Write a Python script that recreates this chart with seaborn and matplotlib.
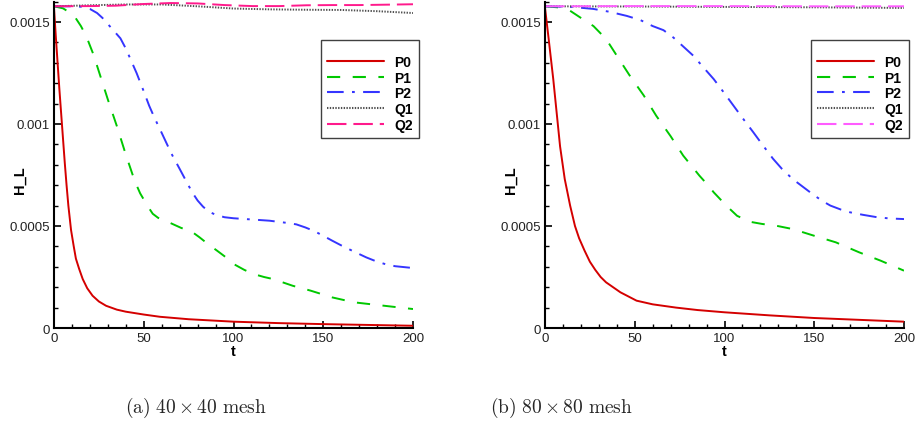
import numpy as np
import pandas as pd
import matplotlib
matplotlib.use("Agg")
import matplotlib.pyplot as plt
import seaborn as sns
from matplotlib.ticker import MultipleLocator, FuncFormatter

# ---------------- data: (a) 40 x 40 mesh ----------------
t_p0_a = [0, 1, 2, 3, 4, 5, 6, 7, 8, 9.5, 11, 12.2, 14, 16, 18.5, 21.5, 25, 29, 35, 40,
          50, 59, 75, 100, 125, 150, 175, 200]
p0_a = [0.00157, 0.00143, 0.0013, 0.00117, 0.00105, 0.00093, 0.00081, 0.0007, 0.0006,
        0.00048, 0.0004, 0.00034, 0.00029, 0.00024, 0.000195, 0.000158, 0.00013, 0.000109,
        0.00009, 0.00008, 0.000066, 0.000055, 0.000043, 0.000031, 0.000024, 0.000019,
        0.000015, 0.000011]

t_p1_a = [0, 5, 10, 12, 15, 18, 22, 26, 30, 35, 40, 45, 48, 52, 55, 58, 61, 66, 71, 76,
          81, 86, 91, 96, 100, 106, 111, 117, 122, 133, 143, 155, 167, 180, 190, 200]
p1_a = [0.001577, 0.001567, 0.00154, 0.00152, 0.00148, 0.00143, 0.00134, 0.00123, 0.00112,
        0.00099, 0.00085, 0.00072, 0.00066, 0.0006, 0.00056, 0.00054, 0.00053, 0.00051,
        0.00049, 0.000477, 0.000445, 0.00041, 0.000378, 0.000345, 0.000314, 0.000285,
        0.000265, 0.00025, 0.00024, 0.000207, 0.000183, 0.00015, 0.000126, 0.000113,
        0.000103, 0.000093]

t_p2_a = [0, 10, 15, 20, 24, 27, 30, 33, 37, 40, 43, 46, 50, 53, 56, 59, 63, 66, 70, 74,
          77, 80, 83, 86, 90, 95, 100, 110, 120, 130, 135, 140, 145, 150, 155, 160, 167,
          174, 180, 185, 190, 200]
p2_a = [0.001577, 0.001577, 0.001575, 0.001564, 0.001544, 0.00152, 0.00149, 0.00146,
        0.00142, 0.00137, 0.00131, 0.00125, 0.00116, 0.00109, 0.00103, 0.000975, 0.0009,
        0.000845, 0.00078, 0.000714, 0.000665, 0.000625, 0.000595, 0.000572, 0.000555,
        0.000543, 0.000538, 0.000532, 0.000526, 0.000515, 0.000508, 0.000493, 0.000475,
        0.000452, 0.000428, 0.000405, 0.000375, 0.000346, 0.000325, 0.000312, 0.000303,
        0.000294]

t_q1_a = [0, 20, 40, 60, 80, 100, 120, 140, 160, 180, 200]
q1_a = [0.001577, 0.001582, 0.001586, 0.001586, 0.001577, 0.001566, 0.001562, 0.00156,
        0.001559, 0.001553, 0.001544]

t_q2_a = [0, 20, 34.5, 49.4, 65, 80, 95, 110.6, 125.5, 140.7, 155, 170, 185.8, 200]
q2_a = [0.001577, 0.001578, 0.00158, 0.001588, 0.001593, 0.001591, 0.001583, 0.001578,
        0.001578, 0.001582, 0.001583, 0.001583, 0.001585, 0.001587]

# ---------------- data: (b) 80 x 80 mesh ----------------
t_p0_b = [0, 2, 4.6, 8.4, 11, 14, 16.7, 19, 22, 25, 28, 31, 34, 42, 51, 60, 73, 85, 100,
          125, 150, 175, 200]
p0_b = [0.00157, 0.00142, 0.00122, 0.00089, 0.00073, 0.0006, 0.0005, 0.00044, 0.00038,
        0.000325, 0.000285, 0.00025, 0.000224, 0.000175, 0.000134, 0.000116, 0.0001,
        0.000088, 0.000077, 0.000062, 0.000049, 0.00004, 0.000031]

t_p1_b = [0, 7, 14, 20, 27, 34, 40, 47, 55, 62, 70, 77, 86, 91, 94, 101, 107, 114, 121,
          129, 138, 150, 162, 175, 187, 200]
p1_b = [0.001577, 0.001572, 0.001555, 0.00152, 0.00148, 0.001417, 0.001335, 0.00124,
        0.00114, 0.00104, 0.00094, 0.000845, 0.000747, 0.000698, 0.000665, 0.0006, 0.00055,
        0.000521, 0.00051, 0.000501, 0.000485, 0.000452, 0.00042, 0.000371, 0.00033,
        0.000281]

t_p2_b = [0, 15, 27, 36, 45.5, 53, 60, 66, 71.5, 77, 82.6, 88, 94, 100, 105, 110, 116,
          121, 127, 132, 138, 144, 150, 155, 159, 165, 170, 177, 185, 192, 200]
p2_b = [0.001577, 0.001574, 0.001564, 0.00155, 0.00153, 0.00151, 0.00148, 0.00146,
        0.001424, 0.00138, 0.001335, 0.00128, 0.00122, 0.00115, 0.00109, 0.00103, 0.00096,
        0.0009, 0.00083, 0.00078, 0.00073, 0.00069, 0.00065, 0.00062, 0.0006, 0.00058,
        0.000567, 0.000555, 0.000543, 0.000537, 0.000534]

t_q1_b = [0, 50, 100, 150, 200]
q1_b = [0.001577, 0.001576, 0.001574, 0.001572, 0.001569]

t_q2_b = [0, 50, 100, 150, 200]
q2_b = [0.001577, 0.001578, 0.001578, 0.001577, 0.001577]

series_names = ["P0", "P1", "P2", "Q1", "Q2"]
x_ticks_major = 50
y_ticks_major = 0.0005
captions = [r"$\mathrm{(a)\ 40\times40\ mesh}$", r"$\mathrm{(b)\ 80\times80\ mesh}$"]

# ---------------- styling ----------------
sns.set_theme(style="white")
plt.rcParams['font.family'] = ['Liberation Sans', 'DejaVu Sans']
plt.rcParams['mathtext.fontset'] = 'cm'
plt.rcParams['lines.scale_dashes'] = False

dash_map = {"P0": "", "P1": (9.5, 9.0), "P2": (12, 6, 2, 6), "Q1": (1.0, 1.0), "Q2": (14, 5)}
pal_a = {"P0": "#d40000", "P1": "#00c800", "P2": "#3535ff", "Q1": "#505050", "Q2": "#ff1a8c"}
pal_b = {"P0": "#d40000", "P1": "#00c800", "P2": "#3535ff", "Q1": "#505050", "Q2": "#ff5cff"}


def build(ts, vs):
    frames = []
    for name, t, v in zip(series_names, ts, vs):
        frames.append(pd.DataFrame({"t": t, "H_L": v, "series": name}))
    return pd.concat(frames, ignore_index=True)


df_a = build([t_p0_a, t_p1_a, t_p2_a, t_q1_a, t_q2_a], [p0_a, p1_a, p2_a, q1_a, q2_a])
df_b = build([t_p0_b, t_p1_b, t_p2_b, t_q1_b, t_q2_b], [p0_b, p1_b, p2_b, q1_b, q2_b])

W, H = 915, 431
fig = plt.figure(figsize=(W / 100, H / 100), dpi=100)
fig.patch.set_facecolor("white")

ax_top_px, ax_bot_px, ax_w_px = 2.6, 329, 359
ax_h_px = ax_bot_px - ax_top_px
axes_specs = [
    (54, df_a, pal_a, (419 - 54) / ax_w_px),
    (545, df_b, pal_b, (909 - 545) / ax_w_px),
]
for left_px, df, pal, lx1 in axes_specs:
    ax = fig.add_axes([left_px / W, 1 - ax_bot_px / H, ax_w_px / W, ax_h_px / H])
    sns.lineplot(data=df, x="t", y="H_L", hue="series", style="series",
                 hue_order=series_names, style_order=series_names,
                 palette=pal, dashes=dash_map, estimator=None, sort=False,
                 linewidth=1.4, ax=ax)
    ax.set_xlim(0, 200)
    ax.set_ylim(0, 0.0016)
    ax.set_facecolor("white")
    for s in ["top", "right"]:
        ax.spines[s].set_visible(False)
    for s in ["left", "bottom"]:
        ax.spines[s].set_color("black")
        ax.spines[s].set_linewidth(1.5)
    ax.xaxis.set_major_locator(MultipleLocator(x_ticks_major))
    ax.xaxis.set_minor_locator(MultipleLocator(10))
    ax.yaxis.set_major_locator(MultipleLocator(y_ticks_major))
    ax.yaxis.set_minor_locator(MultipleLocator(0.0001))
    ax.yaxis.set_major_formatter(FuncFormatter(lambda v, p: "%g" % v))
    ax.tick_params(which="both", direction="in", bottom=True, left=True, top=False,
                   right=False, colors="black", labelcolor="#222222")
    ax.tick_params(which="major", length=5, width=1.2, labelsize=9.5, pad=3)
    ax.tick_params(which="minor", length=3, width=1.0)
    ax.set_xlabel("t", fontweight="bold", fontsize=10.5, color="black")
    ax.set_ylabel("H_L", fontweight="bold", fontsize=10.5, color="black")
    ax.xaxis.set_label_coords(0.5, -(345 - ax_bot_px) / ax_h_px)
    ax.yaxis.set_label_coords(-27 / ax_w_px, (ax_bot_px - 180) / ax_h_px)

    leg = ax.get_legend()
    handles = list(leg.legend_handles)
    labels = [t.get_text() for t in leg.get_texts()]
    leg.remove()
    for h in handles:
        h.set_linewidth(1.5)
    new_leg = ax.legend(handles, labels, loc="upper right",
                        bbox_to_anchor=(lx1, (ax_bot_px - 41) / ax_h_px),
                        borderaxespad=0, frameon=True, fancybox=False, framealpha=1,
                        edgecolor="#404040", borderpad=0.45, handlelength=4.1,
                        handletextpad=0.7, labelspacing=0.12, title=" ",
                        title_fontsize=6, prop={"weight": "bold", "size": 10})
    new_leg.get_frame().set_linewidth(1.0)
    for txt in new_leg.get_texts():
        txt.set_color("black")

fig.text(196 / W, 1 - 408 / H, captions[0], ha="center", va="center", fontsize=14)
fig.text(561 / W, 1 - 408 / H, captions[1], ha="center", va="center", fontsize=14)

fig.savefig("out.png", dpi=100, facecolor="white")
